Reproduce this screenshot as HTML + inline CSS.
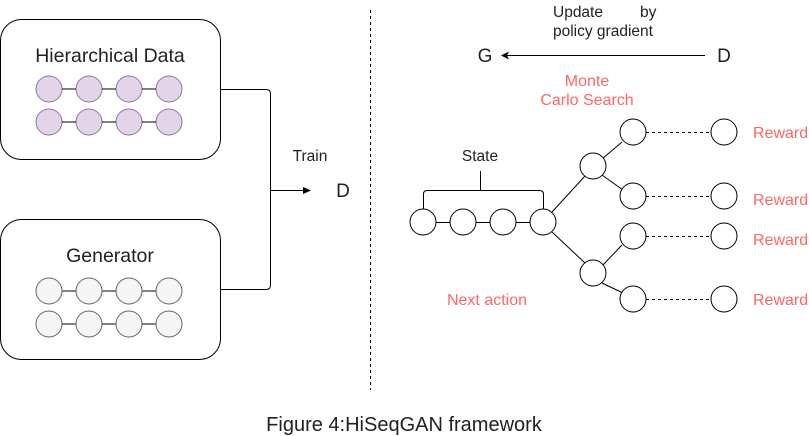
<!DOCTYPE html>
<html><head><style>body{margin:0;background:#fff}svg{display:block}text{font-family:"Liberation Sans",sans-serif}</style></head><body>
<svg width="809" height="436" viewBox="0 0 809 436" xmlns="http://www.w3.org/2000/svg">
<g fill="none" stroke="#000" stroke-width="1">
<rect x="0.5" y="19.5" width="220" height="140" rx="21"/>
<rect x="0.5" y="219.5" width="220" height="140" rx="21"/>
<path d="M220 89.5H266Q270.5 89.5 270.5 94V285Q270.5 289.5 266 289.5H220"/>
<path d="M270.5 190.5H305"/>
<path d="M370.5 10V390" stroke-dasharray="3,3"/>
<path d="M503 55.5H705"/>
<path d="M423.5 209V194Q423.5 190.5 427 190.5H539Q543.5 190.5 543.5 194V209M480.5 190.5V171"/>
<path d="M436 222.5H450M476 222.5H490M516 222.5H530"/>
<path d="M552 212L585 176M552 232L585 263M602 159L622 142M602 175L623 190M602 266L622 245M602 283L623 293"/>
<path d="M646 132.5H711M646 196.5H711M646 236.5H711M646 299.5H711" stroke-dasharray="3,3"/>
</g>
<path d="M311 190.5L303 187V194Z"/>
<path d="M501 55.5L509 51.5L507 55.5L509 59.5Z"/>
<g stroke="#9673a6" fill="#e1d5e7">
<circle cx="49" cy="89" r="13"/><circle cx="89" cy="89" r="13"/><circle cx="129" cy="89" r="13"/><circle cx="169" cy="89" r="13"/>
<circle cx="49" cy="122" r="13"/><circle cx="89" cy="122" r="13"/><circle cx="129" cy="122" r="13"/><circle cx="169" cy="122" r="13"/>
</g>
<g stroke="#000"><path d="M62 89H76M102 89H116M142 89H156M62 122H76M102 122H116M142 122H156M62 291H76M102 291H116M142 291H156M62 324H76M102 324H116M142 324H156"/></g>
<g stroke="#666" fill="#f5f5f5">
<circle cx="49" cy="291" r="13"/><circle cx="89" cy="291" r="13"/><circle cx="129" cy="291" r="13"/><circle cx="169" cy="291" r="13"/>
<circle cx="49" cy="324" r="13"/><circle cx="89" cy="324" r="13"/><circle cx="129" cy="324" r="13"/><circle cx="169" cy="324" r="13"/>
</g>
<g stroke="#000" fill="#fff">
<circle cx="423" cy="222" r="13"/><circle cx="463" cy="222" r="13"/><circle cx="503" cy="222" r="13"/><circle cx="543" cy="222" r="13"/>
<circle cx="593" cy="166" r="13"/><circle cx="593" cy="273" r="13"/>
<circle cx="633" cy="132" r="13"/><circle cx="633" cy="196" r="13"/><circle cx="633" cy="236" r="13"/><circle cx="633" cy="299" r="13"/>
<circle cx="724" cy="132" r="13"/><circle cx="724" cy="196" r="13"/><circle cx="724" cy="236" r="13"/><circle cx="724" cy="299" r="13"/>
</g>
<g fill="#222">
<text x="110" y="62" font-size="19.5" text-anchor="middle">Hierarchical Data</text>
<text x="110" y="262" font-size="19.5" text-anchor="middle">Generator</text>
<text x="310" y="161" font-size="15.5" text-anchor="middle">Train</text>
<text x="343" y="197" font-size="19" text-anchor="middle">D</text>
<text x="553" y="17" font-size="15.5">Update</text>
<text x="640" y="17" font-size="15.5">by</text>
<text x="553" y="36" font-size="15.5">policy gradient</text>
<text x="485" y="62" font-size="19" text-anchor="middle">G</text>
<text x="724" y="62" font-size="19" text-anchor="middle">D</text>
<text x="480" y="161" font-size="15.5" text-anchor="middle">State</text>
<text x="404" y="431" font-size="20" text-anchor="middle">Figure 4:HiSeqGAN framework</text>
</g>
<g fill="#ff6666" font-size="16">
<text x="587" y="86" text-anchor="middle">Monte</text>
<text x="587" y="105" text-anchor="middle">Carlo Search</text>
<text x="753" y="138">Reward</text>
<text x="753" y="205">Reward</text>
<text x="753" y="245">Reward</text>
<text x="753" y="305">Reward</text>
<text x="487" y="305" text-anchor="middle">Next action</text>
</g>
</svg>
</body></html>
